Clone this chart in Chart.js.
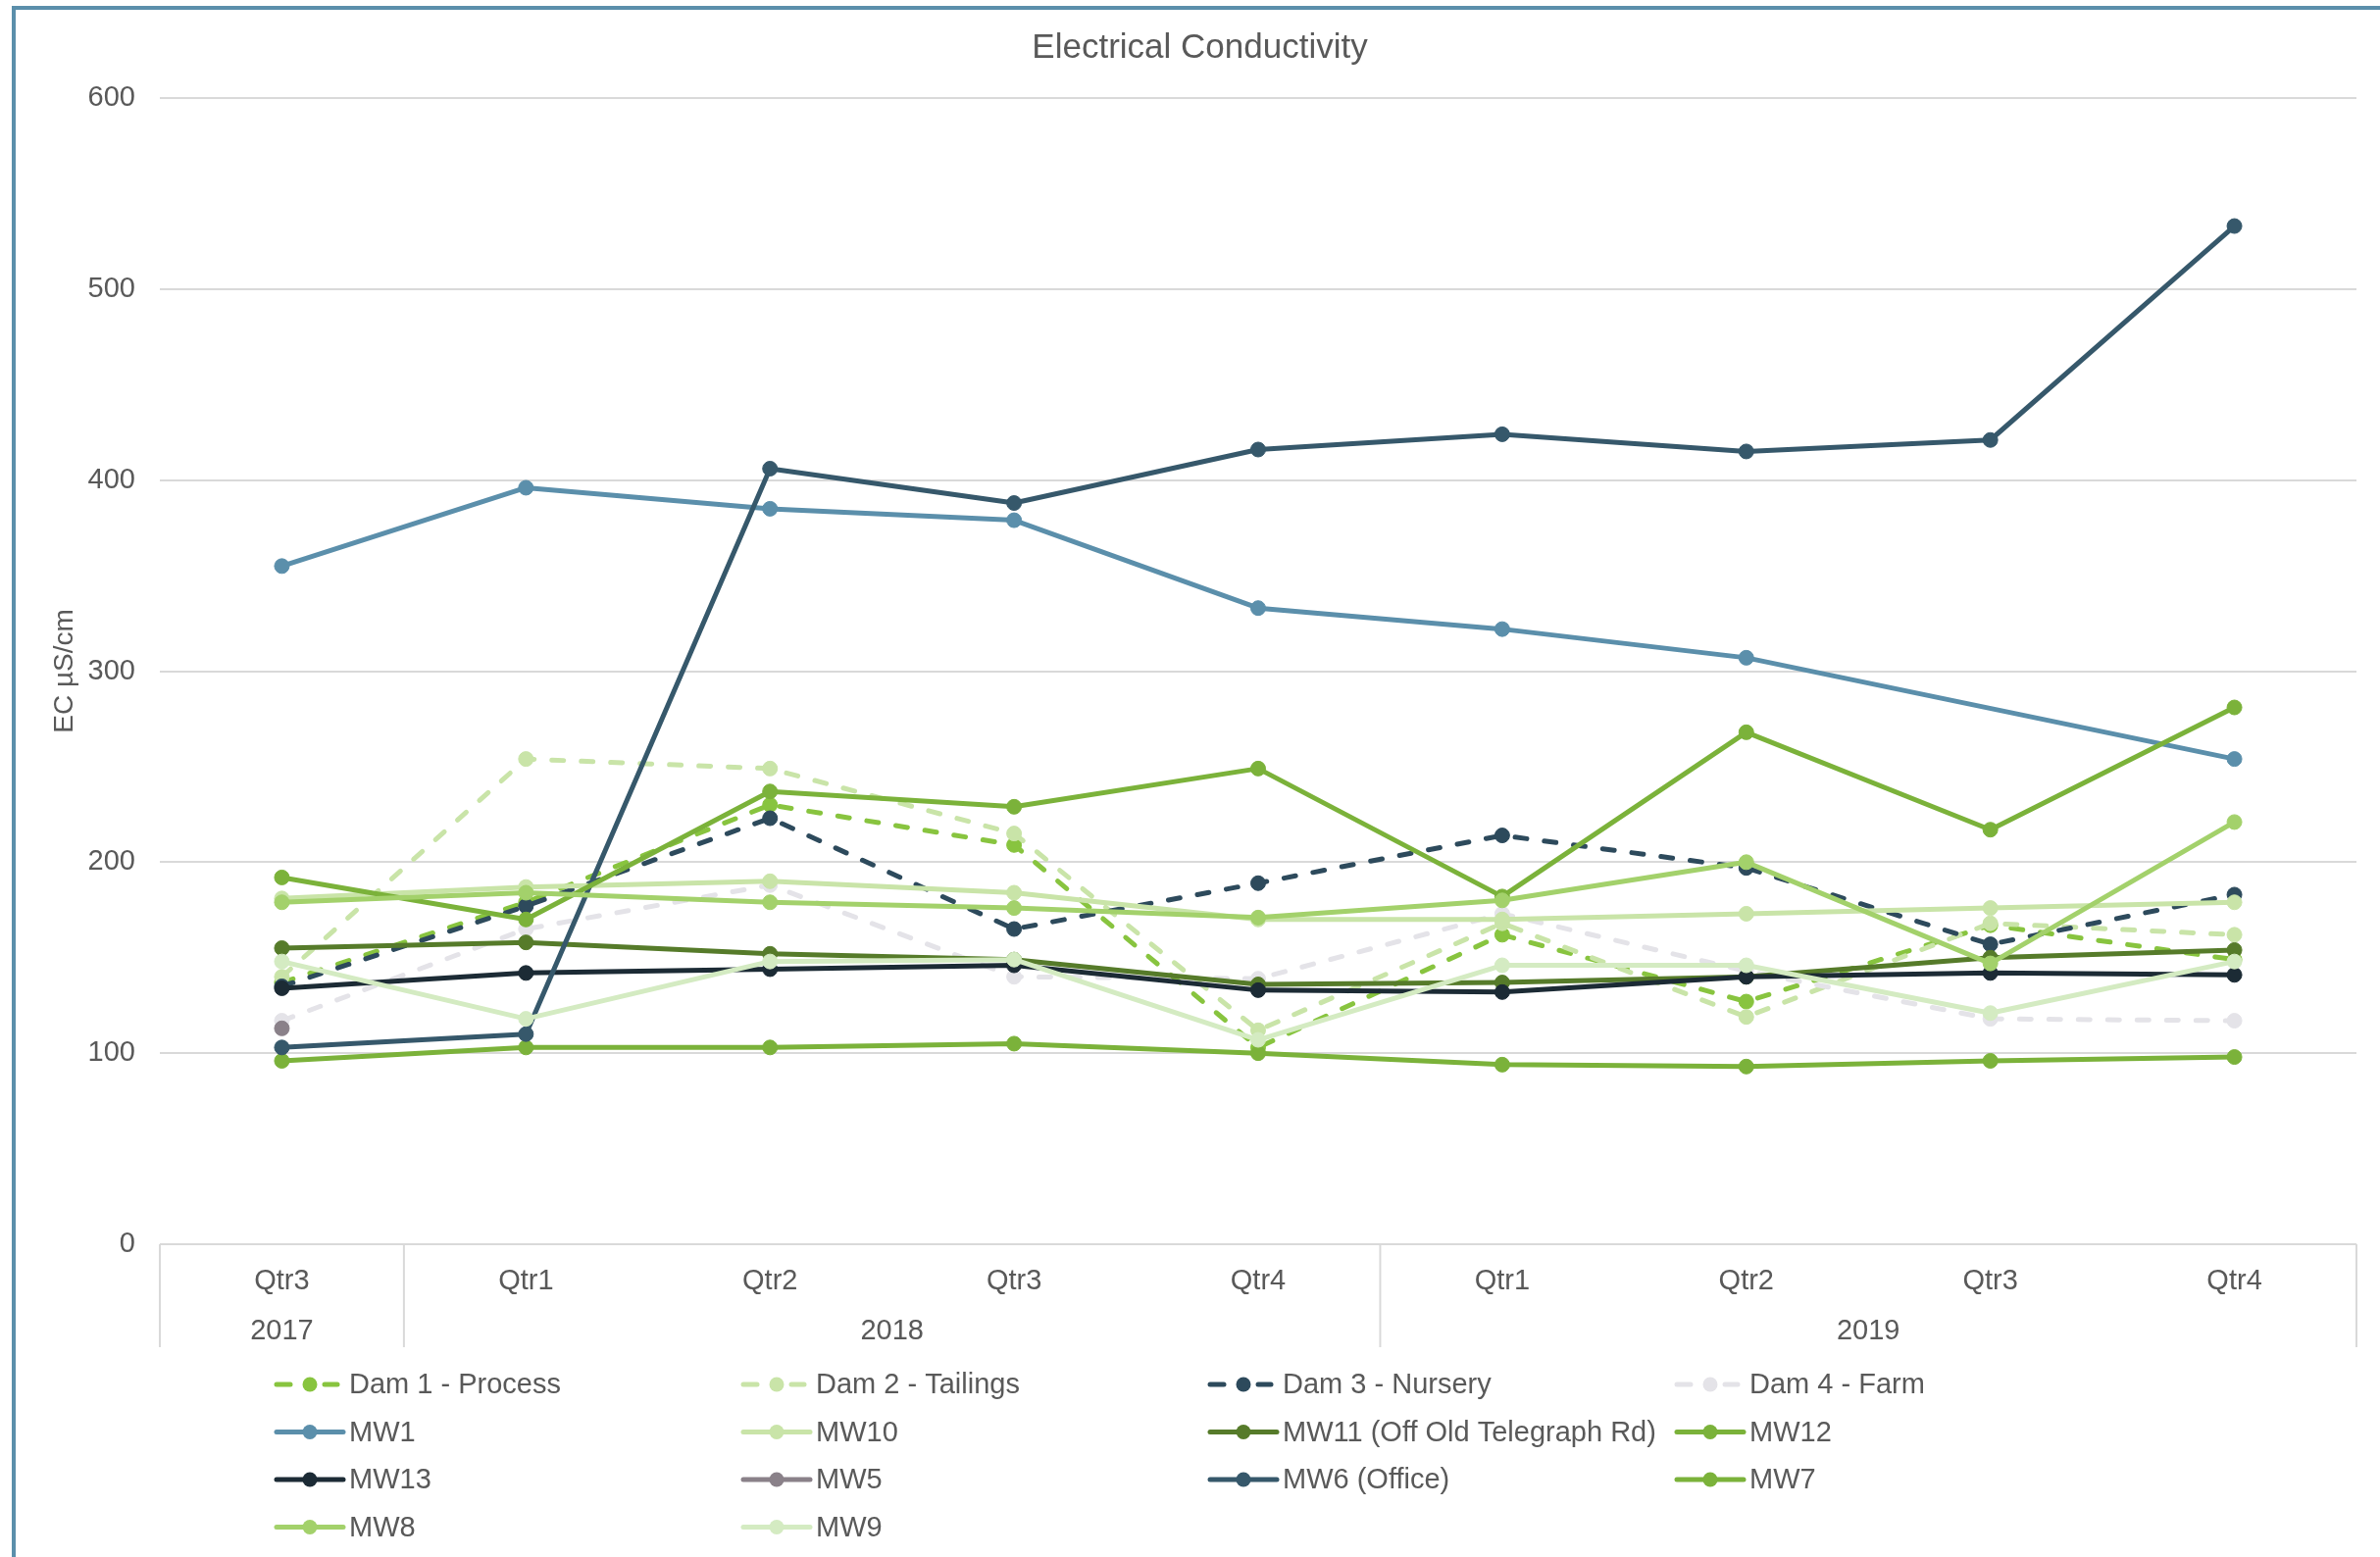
<!DOCTYPE html>
<html><head><meta charset="utf-8">
<script src="https://cdn.jsdelivr.net/npm/chart.js@4.4.1/dist/chart.umd.min.js"></script>
<style>
html,body{margin:0;padding:0;background:#fff;width:2427px;height:1588px;overflow:hidden;}
#frame{position:absolute;left:12px;top:6px;width:2500px;height:1700px;border-left:4px solid #5b8fab;border-top:4px solid #5b8fab;}
#wrap{position:absolute;left:0;top:0;width:2427px;height:1588px;}
</style></head><body>
<div id="frame"></div>
<div id="wrap"><canvas id="c" width="2427" height="1588"></canvas></div>
<script>
// ---- data ----
const categories = ['Qtr3','Qtr1','Qtr2','Qtr3','Qtr4','Qtr1','Qtr2','Qtr3','Qtr4'];
const yearLabels = ['2017','2018','2019'];
const yearStart  = [0, 1, 5];
const yearSpan   = [1, 4, 4];
const yTicks = [0, 100, 200, 300, 400, 500, 600];

const seriesNames = ['Dam 1 - Process','Dam 2 - Tailings','Dam 3 - Nursery','Dam 4 - Farm',
  'MW1','MW10','MW11 (Off Old Telegraph Rd)','MW12','MW13','MW5','MW6 (Office)','MW7','MW8','MW9'];

const dam1 = [137, 179, 230, 209, 103, 162, 127, 167, 149];
const dam2 = [140, 254, 249, 215, 112, 168, 119, 168, 162];
const dam3 = [135, 177, 223, 165, 189, 214, 197, 157, 183];
const dam4 = [117, 165, 188, 140, 139, 173, 143, 118, 117];
const mw1  = [355, 396, 385, 379, 333, 322, 307, null, 254];
const mw10 = [181, 187, 190, 184, 170, 170, 173, 176, 179];
const mw11 = [155, 158, 152, 149, 136, 137, 140, 150, 154];
const mw12 = [96, 103, 103, 105, 100, 94, 93, 96, 98];
const mw13 = [134, 142, 144, 146, 133, 132, 140, 142, 141];
const mw5  = [113, null, null, null, null, null, null, null, null];
const mw6  = [103, 110, 406, 388, 416, 424, 415, 421, 533];
const mw7  = [192, 170, 237, 229, 249, 182, 268, 217, 281];
const mw8  = [179, 184, 179, 176, 171, 180, 200, 147, 221];
const mw9  = [148, 118, 148, 149, 107, 146, 146, 121, 148];

const seriesValues = [dam1, dam2, dam3, dam4, mw1, mw10, mw11, mw12, mw13, mw5, mw6, mw7, mw8, mw9];
const seriesColors = ['#88c43f','#c9e4a8','#2d4a5c','#e4e3e8','#5b8fab','#c9e4a8','#567b2a',
  '#7bb23a','#1c2b35','#8a8189','#36586b','#7bb23a','#a3d16b','#d4ebc2'];
const seriesDashed = [true, true, true, true, false, false, false, false, false, false, false, false, false, false];

// ---- chart ----
const FONT = "'Liberation Sans', Arial, sans-serif";
const TXT = '#595959';
Chart.defaults.font.family = FONT;

const N = seriesNames.length;
const datasets = seriesNames.map((name, i) => ({
  label: name,
  data: seriesValues[i],
  borderColor: seriesColors[i],
  backgroundColor: seriesColors[i],
  pointBackgroundColor: seriesColors[i],
  pointBorderColor: seriesColors[i],
  pointBorderWidth: 1,
  pointRadius: 7.5,
  pointHoverRadius: 7.5,
  borderWidth: 5,
  borderDash: seriesDashed[i] ? [12, 18] : [],
  borderCapStyle: 'round',
  borderJoinStyle: 'round',
  tension: 0,
  spanGaps: true,
  fill: false,
  order: N - i
}));

const separatorPlugin = {
  id: 'separators',
  afterDraw(chart) {
    const xs = chart.scales.x, x2 = chart.scales.x2;
    const ctx = chart.ctx;
    const half = (xs.getPixelForValue(1) - xs.getPixelForValue(0)) / 2;
    const bounds = yearStart.map(s => xs.getPixelForValue(s) - half);
    bounds.push(xs.getPixelForValue(categories.length - 1) + half);
    ctx.save();
    ctx.strokeStyle = '#d9d9d9';
    ctx.lineWidth = 2;
    bounds.forEach(b => {
      ctx.beginPath();
      ctx.moveTo(b, chart.chartArea.bottom);
      ctx.lineTo(b, x2.bottom);
      ctx.stroke();
    });
    ctx.restore();
  }
};

const legendPlugin = {
  id: 'gridLegend',
  afterDraw(chart) {
    const ctx = chart.ctx;
    const x0 = chart.chartArea.left + 117;
    const y0 = chart.scales.x2.bottom + 38;
    const colW = 476, rowH = 48.5;
    ctx.save();
    ctx.font = '29px ' + FONT;
    ctx.textBaseline = 'middle';
    ctx.textAlign = 'left';
    chart.data.datasets.forEach((ds, i) => {
      const col = i % 4, row = Math.floor(i / 4);
      const x = x0 + col * colW, y = y0 + row * rowH;
      ctx.strokeStyle = ds.borderColor;
      ctx.lineWidth = 5;
      ctx.lineCap = 'round';
      ctx.setLineDash([]);
      if (seriesDashed[i]) {
        ctx.beginPath(); ctx.moveTo(x + 2, y); ctx.lineTo(x + 16, y); ctx.stroke();
        ctx.beginPath(); ctx.moveTo(x + 51, y); ctx.lineTo(x + 64, y); ctx.stroke();
      } else {
        ctx.beginPath(); ctx.moveTo(x + 2, y); ctx.lineTo(x + 70, y); ctx.stroke();
      }
      ctx.fillStyle = ds.borderColor;
      ctx.beginPath(); ctx.arc(x + 36, y, 7.5, 0, Math.PI * 2); ctx.fill();
      ctx.fillStyle = TXT;
      ctx.fillText(ds.label, x + 76, y + 1);
    });
    ctx.restore();
  }
};

new Chart(document.getElementById('c'), {
  type: 'line',
  data: { labels: categories, datasets },
  options: {
    responsive: false,
    devicePixelRatio: 1,
    animation: false,
    events: [],
    layout: { padding: { left: 44, right: 24, top: 0, bottom: 214 } },
    plugins: {
      legend: { display: false },
      tooltip: { enabled: false },
      title: {
        display: true,
        text: 'Electrical Conductivity',
        color: TXT,
        font: { size: 35, weight: 'normal', family: FONT },
        padding: { top: 28, bottom: 30 }
      }
    },
    scales: {
      y: {
        min: 0, max: 600,
        afterBuildTicks(s) { s.ticks = yTicks.map(v => ({ value: v })); },
        afterFit(s) { s.width = 119; },
        ticks: { color: TXT, font: { size: 29 }, padding: 25 },
        grid: { color: '#d9d9d9', lineWidth: 2, drawTicks: false },
        border: { display: false },
        title: { display: true, text: 'EC µS/cm', color: TXT, font: { size: 28 }, padding: { top: 5, bottom: 0 } }
      },
      x: {
        type: 'category',
        offset: true,
        afterFit(s) { s.height = 51; },
        ticks: { color: TXT, font: { size: 29 }, padding: 13, maxRotation: 0, autoSkip: false },
        grid: { display: false },
        border: { display: false }
      },
      x2: {
        type: 'linear',
        position: 'bottom',
        min: -0.5, max: 8.5,
        afterBuildTicks(s) { s.ticks = yearStart.map((st, i) => ({ value: st + (yearSpan[i] - 1) / 2 })); },
        afterFit(s) { s.height = 54; },
        ticks: { color: TXT, font: { size: 29 }, padding: 13, maxRotation: 0, autoSkip: false,
                 callback: (v, i) => yearLabels[i] },
        grid: { display: false },
        border: { display: false }
      }
    }
  },
  plugins: [separatorPlugin, legendPlugin]
});
</script>
</body></html>
